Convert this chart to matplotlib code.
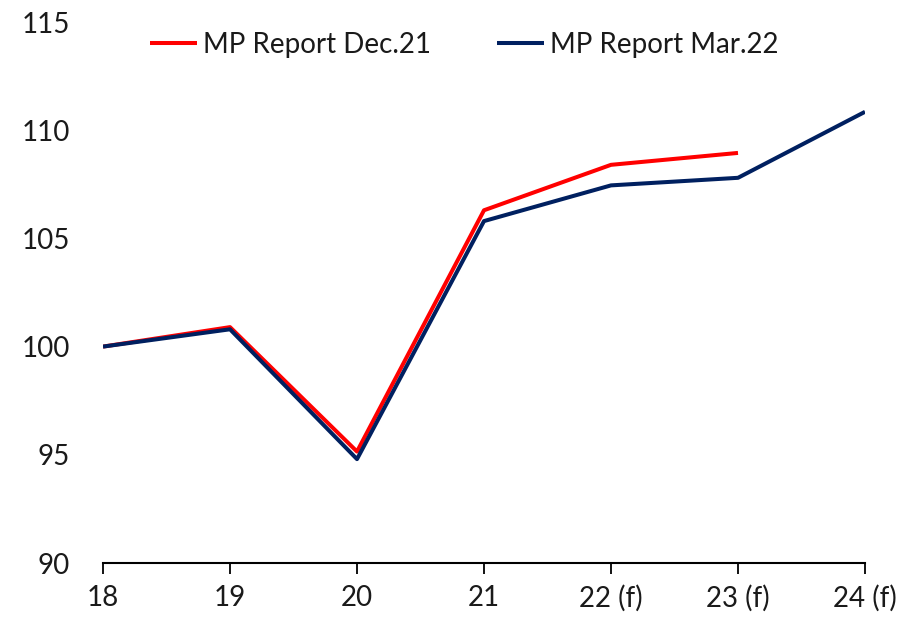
import matplotlib.pyplot as plt

plt.rcParams['font.family'] = ['Lato', 'DejaVu Sans']

years = ['18', '19', '20', '21', '22 (f)', '23 (f)', '24 (f)']
dec21 = [100.0, 100.9, 95.15, 106.3, 108.4, 108.95]
mar22 = [100.0, 100.8, 94.8, 105.8, 107.45, 107.8, 110.85]

fig = plt.figure(figsize=(9.21, 6.21), dpi=100)
ax = fig.add_axes([103 / 921, 58 / 621, 762 / 921, 541 / 621])

x = list(range(len(years)))
ax.plot(x[:len(dec21)], dec21, color='#ff0000', lw=2.9, label='MP Report Dec.21',
        solid_capstyle='butt')
ax.plot(x, mar22, color='#002060', lw=2.9, label='MP Report Mar.22',
        solid_capstyle='butt')

ax.set_xlim(0, len(years) - 1)
ax.set_ylim(90, 115)
ax.set_yticks(range(90, 116, 5))
ax.set_xticks(x)
ax.set_xticklabels(years)

for side in ['top', 'right', 'left']:
    ax.spines[side].set_visible(False)
ax.spines['bottom'].set_linewidth(1.5)
ax.spines['bottom'].set_color('#000000')
ax.tick_params(axis='x', direction='out', length=8, width=1.3, pad=8,
               labelsize=20, colors='#000000', labelcolor='#1a1a1a')
ax.tick_params(axis='y', length=0, pad=24, labelsize=20, colors='#000000',
               labelcolor='#1a1a1a')

leg = ax.legend(loc='upper center', bbox_to_anchor=(0.474, 1.028), ncol=2,
                frameon=False, fontsize=20, handlelength=1.7, handletextpad=0.2,
                columnspacing=2.4)
for t in leg.get_texts():
    t.set_color('#1a1a1a')

fig.savefig('out.png', dpi=100, facecolor='white')
